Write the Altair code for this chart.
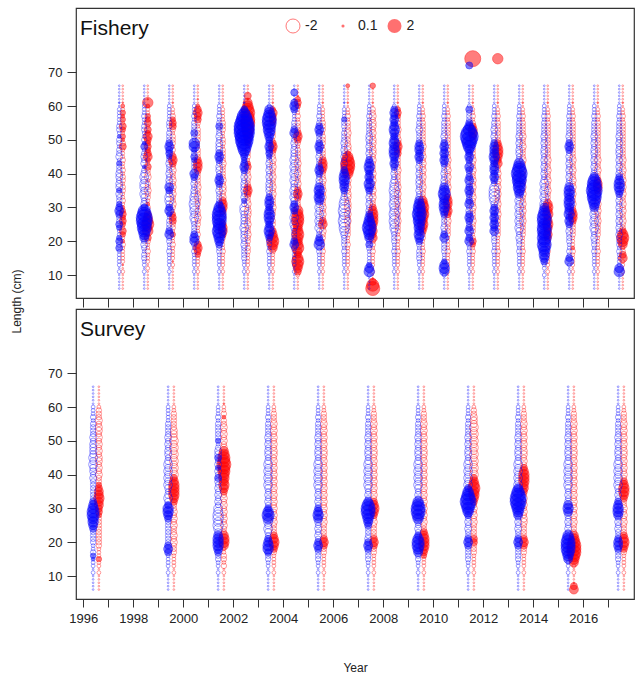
import altair as alt
import pandas as pd

# ---------------- data ----------------
# length bins (cm), listed top (66) to bottom (6)
LENGTHS = [66, 65, 64, 63, 62, 61, 60, 59, 58, 57, 56, 55, 54, 53, 52, 51, 50, 49, 48, 47,
           46, 45, 44, 43, 42, 41, 40, 39, 38, 37, 36, 35, 34, 33, 32, 31, 30, 29, 28, 27,
           26, 25, 24, 23, 22, 21, 20, 19, 18, 17, 16, 15, 14, 13, 12, 11, 10, 9, 8, 7, 6]

# residual read per bin: lower case = negative (open), upper case = positive (filled)
CODE = {'.': -0.03, ',': 0.03,
        'a': -0.15, 'b': -0.3, 'c': -0.5, 'd': -0.8, 'e': -1.1, 'f': -1.5,
        'A': 0.15, 'B': 0.3, 'C': 0.5, 'D': 0.8, 'E': 1.1, 'F': 1.5, 'G': 2.0,
        'H': 2.6, 'I': 3.3, 'J': 4.2}

FISHERY_YEARS = [1997, 1998, 1999, 2000, 2001, 2002, 2003, 2004, 2005, 2006, 2007,
                 2008, 2009, 2010, 2011, 2012, 2013, 2014, 2015, 2016, 2017]

FISHERY_BLUE = [
    ".....,.aaa aabbaAbbab bcaBbbccbc cBcbbBCDCb bCBaaBCbCa aaaa.a.... .",
    "......aaab aabbaabACa bcbcAbcdcd dcdcbcCFGH HGGFEDbcba bbaa.a.... .",
    "......aaaa abbabbbCDC CBbcbbcbcc DCcddcCDBa bbbCDbbaab aaaa.a.... .",
    "......aaab abbbCbaEEB bCBbbbDCbc bccddeddcd cbbbCDDbab aaaa.a.... .",
    "......aaab abCbbcbccc CDCbccbCDC bcbbbCEFGG GFFGFEDCbb aaaa.a.... .",
    ".....,.CEG HIJJJIIHGF DCBCDCbcbc ccbcBbddcc ccdcccbcbb bbaa.a.... .",
    "......aDEF GGFFEDCCDC CBbcbcbcbc ccbCDDCDEE DCDEDCbbab aaaa.a.... .",
    "..C.,CDCaa abbCDbbcbc ccdcdcdcdc cdcdcCDCcd cdcbbbCDba aaaa.a.... .",
    "......aaab abCDCbbCDC bcbbCDCbcc DEDEDcdcdc dcdbbCDEbb aaaa.a.... .",
    ".....,.aaa Bbbabbbcbc bcbcbCDEED DCbcdeefee feedcbbbab aaaa.a.... .",
    "......aaab abbbbccbcb cbCDEDCDCE DCbcbcbcCD EFGFEDbCba aaaBDEa... .",
    "......aCDC DCDEDCDEDE EDCDCbcbcd dedddedded eddcbbbaab aaaa.a.... .",
    "......aaab abbcbbbCDD CDCbcbcbcc bcbcDEFFGF FEEDEDCbab bbaa.a.... .",
    "......aaab abbbbcbCDC DCDCbbcbcc DEFEDEEDCb bbcbCDbbbb aaBDEDa... .",
    "......aCbb bCDFHIHGFD CDCbDCbCDc CDCbCDbcCD CbCDbCDbab aaaa.a.... .",
    "......aaab abbcbcbCDD DEDCDDCDCb deeedcCDCD CDCDbbbaab aaaa.a.... .",
    "......aaab abbbbcbcbc cbcEFGHGGF FEDcdcdcdc dcdcbcbbab aaaa.a.... .",
    "......aaab abbbbcbcbc cbcbcbcbcd cdcdcdDEFG GFGGFGFGFE EDCaa.a... .",
    "......aaab abbbbcbCDC bcbcbcbcbc DEEDEEDDEC DCbcbbbaab aCDa.a.... .",
    "......aaab abbbbcbcbc cbcbcbcDFG GHGGFEDcdc dcdcbcbbab aaaa.a.... .",
    "......aaab abbbbcbcbc cbcbcbcCDE EDCbcbcbcb cbcbcbbbab aaaaDE.... .",
]

FISHERY_RED = [
    ".....,AaBA BaCBaBAbCa aabaababba bbaabaABCB CBaCBaAbaa aaa,.a.... .",
    "....,EAaaB BCaCBDCBCB CDBaCbbcab bcbbaAbaCD EFDEaCbaab aaa.a..... .",
    ".....,.aab BCCbabbbab aCDCbcbbcb cbcbbcbaBC CbbaBaabaa aa,a...... .",
    "....,.ACDC Cbabbbbaab bbCDDCbbbb cbbcbbabbc bbaabaaCDC Baaa.a.... .",
    ".....,.aaa abbbaabbab bbbcbbbbcb ccbcCDDCbc aCDDCbaaab aaaa.a.... .",
    "...C,DEFGF GGFFEDCBab bbaBCbbcbb CDCbbcbccb bcbbcbbabb aaaa.a.... .",
    ".....,.BDC CBbabbaCDC bbcbcbbcbb cbcbbbcbba bbaCDEFEDb aaaa.a.... .",
    "...,BCBaab abbbCDCbab bbbcbbcbbc bCDCbbcEEF FEDEFEDEFD CEFEDCa... .",
    ".....,.aaa abbbabbbab bbCDDCbbcb bcbcbbcbcb CDbcbbaaab aaaa.a.... .",
    "A....,.aab abbbcbbbcc BEFGGFEbcb cbccbccbcb cbbbbaabaa aaaa.a.... .",
    "B....,.bbc bccbcbccbc cbcbbbcbcb bcbcbbCDEE EDCDCDbbab aaaa.a.,CF G",
    ".....,.BCB bbbcbbcCDC Cbbbbcbbbb cbcbcbbcbb cbbbabaaab aaaa.a.... .",
    ".....,.aab abbbbbbbcb bcbcbcbcbb cbbbDEFEFE DEDCbbaaab aaaa.a.... .",
    ".....,.aab abbbbbbbbb bbcbbcbcbb cbbCDDCDCb cbbbbaaaab aaaa.a.... .",
    ".....,.aab abCDDCbbab bbcbbcbbcb cbbcbbcbbb cbbbabCBab aaaa.a.... .",
    ".....,.aab abbbbbbCDE EDCDbbcbcb cbcbbcbbcb bbbbbaaaab aaaa.a.... .",
    ".....,.aab abbbbcbbcb bbcbbcbbcb cbcbbcbcbb cbbbbaaaab aaaa.a.... .",
    ".....,.aab abbbbbbbbb bbcbbcbbcb bcbbbDEDEC DEDCDCbbab aaaa.a.... .",
    ".....,.aab abbbbbbbbb bbcbbcbbcb cbcbbcbCDD CbbbbaaaAb aaaa.a.... .",
    ".....,.aab abbbbbbbbb bbcbbcbbCD DCbbbcbcbb cbbbbaaaab aaaa.a.... .",
    ".....,.aab abbbbbbbbb bbcbbcbbcb cbcbbcbcbb cbbCEFEDab CDaa.a.... .",
]

# a few fishery residuals above the 66 cm bin (2011-2012)
EXTRA_YEAR = [2011, 2011, 2012]
EXTRA_SEX = ["M", "F", "M"]
EXTRA_LENGTH = [74, 72, 74]
EXTRA_RESID = [2.6, 0.5, 1.1]

SURVEY_YEARS = [1996, 1999, 2001, 2003, 2005, 2007, 2009, 2011, 2013, 2015, 2017]

SURVEY_BLUE = [
    "......aaab abbbbcbccc cdcdccbcbb bbbbCDEFFE EDCbbbbaab BAaa.a.... .",
    "......aaaa abbbbcbcbc cbcdcdcdcd cbcdcCEEDC bbbbbbbCDC aaaa.a.... .",
    "......aaab abbbbbBabc cCbcBcbCcb cbcbcbddee dedcDEEEDC bbaa.a.... .",
    "......aaab abbbbcbcbc cbcdcdcdcd cbcbcbCEFE dcdcbCDEEC bbaa.a.... .",
    "......aaab abbbbcbcbc cbcdcdcdcd cbcbcbCDED cbcbcbCDCb bbaa.a.... .",
    "......aaab abbbbcbcbc cbcdcdcdcd cbcbDFGGFE DCbbbcCDCb bbaa.a.... .",
    "......aaab abbbbcbcbc cbcdcdcdcd cbcbEFGGFE cbcbCEFFED bbaa.a.... .",
    "......aaab abbbbcbcbc cbcdcdcdcd CEFGHGFECb cbcbbCDCbb bbaa.a.... .",
    "......aaab abbbbcbcbc cbcdcdcdcd DFGHHGFEDb cbcbbCDCbb bbaa.a.... .",
    "......aaab abbbbcbcbc cbcdcdcdcd cbcbcDEDcb cbcbEFGGGF EDaa.a.... .",
    "......aaab abbbbcbcbc cbcdcdcdcd cbcbCDEEDb cbcbbCDDCb bbaa.a.... .",
]

SURVEY_RED = [
    "......abbb cbccbcbcbc bccbcbcbbB CDDEDDCCBb bbbbbbbbaa aBaa.a.... .",
    "......aabb bbbcccdcdc dcdcdcdCDE EEEDCbbcbc bcbbcbcbbb aaaa.a.... .",
    ".....,aabA bbcbcbcbcD EFFGFFEEDE DCbcbcbcbc bcbbDEEDaa bbab.a.... .",
    "......aabb bcbcbcbcbc cbcbcbcbcb cbcbcbcbcb cbbbCDEDCb aaaa.a.... .",
    "......aabb bcbcbcbcbc cbcbcbcbcb cbcbcbcbcb cbbbbCDCbb aaaa.a.... .",
    "......aabb bcbcbcbcbc cbcbcbcbcb cbcbCDEDCb cbbbbCDCbb aaaa.a.... .",
    "......aabb bcbcbcbcbc cbcbcbcbcb cbcbcbcbcb cbbCDEEEDC Baaa.a.... .",
    "......abbc ccdcdcdcdc dcdcdcdCDE FEEDCbcbcb cbbbbCCbbb aaaa.a.... .",
    "......aabb bcbcbcbcbc cbcbCDEEED DCbcbcbcbc cbbbbCDCbb aaaa.a.... .",
    "......aabb bcbcbcbcbc cbcbcbcbcb cbcbcbcbcb cbbbDEFGGG FEDa.a..,C D",
    "......aabb bcbcbcbcbc cbcbcbcbCD EEDCbbcbcb cbbbCDEDCb aaaa.a.... .",
]

LEGEND_VALUES = [-2, 0.1, 2]
LEGEND_LABELS = ["-2", "0.1", "2"]
X_TICKS = list(range(1996, 2018))
Y_TICKS = [10, 20, 30, 40, 50, 60, 70]


def build(years, blue, red, extra=None):
    rows = []
    for sex, cols in (("M", red), ("F", blue)):
        for yr, s in zip(years, cols):
            s = s.replace(" ", "")
            if len(s) < len(LENGTHS):
                s = s + "." * (len(LENGTHS) - len(s))
            for L, ch in zip(LENGTHS, s):
                rows.append({"year": yr, "sex": sex, "length": L, "resid": CODE[ch]})
    if extra:
        for yr, sx, L, r in zip(*extra):
            rows.append({"year": yr, "sex": sx, "length": L, "resid": r})
    return pd.DataFrame(rows)


fish_df = build(FISHERY_YEARS, FISHERY_BLUE, FISHERY_RED,
                (EXTRA_YEAR, EXTRA_SEX, EXTRA_LENGTH, EXTRA_RESID))
surv_df = build(SURVEY_YEARS, SURVEY_BLUE, SURVEY_RED)

FONT = "Liberation Sans"
W, H = 558, 290
XDOM = [1995.71, 2018.03]
YDOM = [3.2, 89]
SIZE_SCALE = alt.Scale(domain=[0, 4.2], range=[0, 411.6])
SEX_SCALE = alt.Scale(domain=["F", "M"], range=["#0000FF", "#FF0000"])


def bubbles(df, offset, top):
    if top:
        xaxis = alt.Axis(values=X_TICKS, labels=False, ticks=True, tickSize=9,
                         domain=False, grid=False, title=None, tickColor="#333")
        yaxis = alt.Axis(values=Y_TICKS, tickSize=9, labelPadding=5, domain=False,
                         grid=False, tickColor="#333", title="Length (cm)",
                         titleX=-60, titleY=293, titleAngle=270, titleAlign="center",
                         titleBaseline="middle", titleFontWeight="normal",
                         titleFontSize=12)
    else:
        xaxis = alt.Axis(values=X_TICKS, format="d",
                         labelExpr="datum.value % 2 == 0 ? datum.label : ''",
                         tickSize=8, domain=False, grid=False, title="Year",
                         titlePadding=37, labelPadding=5, tickColor="#333")
        yaxis = alt.Axis(values=Y_TICKS, tickSize=9, labelPadding=5, domain=False,
                         grid=False, tickColor="#333", title=None)
    return alt.Chart(df).transform_calculate(
        xpos=f"datum.year + 0.51 + (datum.sex == 'F' ? -{offset} : {offset})",
        absr="abs(datum.resid)",
    ).mark_point(shape="circle", strokeWidth=1).encode(
        x=alt.X("xpos:Q", scale=alt.Scale(domain=XDOM, nice=False, zero=False), axis=xaxis),
        y=alt.Y("length:Q", scale=alt.Scale(domain=YDOM, nice=False, zero=False), axis=yaxis),
        size=alt.Size("absr:Q", scale=SIZE_SCALE, legend=None),
        stroke=alt.Stroke("sex:N", scale=SEX_SCALE, legend=None),
        fill=alt.Fill("sex:N", scale=SEX_SCALE, legend=None),
        fillOpacity=alt.condition("datum.resid > 0", alt.value(0.72), alt.value(0)),
        strokeOpacity=alt.condition("datum.resid > 0", alt.value(0.72), alt.value(0.55)),
    )


def label(text, y):
    return alt.Chart(alt.Data(values=[{"t": text}])).mark_text(
        align="left", baseline="alphabetic", fontSize=21, font=FONT, color="#111"
    ).encode(x=alt.value(4), y=alt.value(y), text="t:N")


def legend_item(i, x):
    v = LEGEND_VALUES[i]
    filled = v > 0
    pt = alt.Chart(alt.Data(values=[{"r": abs(v)}])).mark_point(
        shape="circle", strokeWidth=1, color="#FF0000", filled=filled,
        opacity=0.75, fillOpacity=0.75 if filled else 0, strokeOpacity=0.7
    ).encode(x=alt.value(x), y=alt.value(18),
             size=alt.Size("r:Q", scale=SIZE_SCALE, legend=None))
    tx = alt.Chart(alt.Data(values=[{"t": LEGEND_LABELS[i]}])).mark_text(
        align="left", baseline="middle", fontSize=14, font=FONT, color="#222"
    ).encode(x=alt.value(x + 12 if i != 1 else x + 15), y=alt.value(18), text="t:N")
    return pt + tx


top = alt.layer(
    bubbles(fish_df, 0.07, True),
    label("Fishery", 27),
    legend_item(0, 217), legend_item(1, 267), legend_item(2, 318.5),
).properties(width=W, height=H)

bottom = alt.layer(
    bubbles(surv_df, 0.115, False),
    label("Survey", 27),
).properties(width=W, height=H)

chart = alt.vconcat(top, bottom, spacing=11, bounds="flush").properties(
    padding={"left": 9, "top": 7, "right": 4, "bottom": 4},
    background="white",
).configure_view(
    stroke="#333333", strokeWidth=1.2
).configure_axis(
    labelFont=FONT, titleFont=FONT, labelFontSize=13, titleFontSize=12,
    labelColor="#222", titleColor="#222", titleFontWeight="normal",
)

chart.save("out.html", embed_options={"renderer": "svg", "actions": False})
